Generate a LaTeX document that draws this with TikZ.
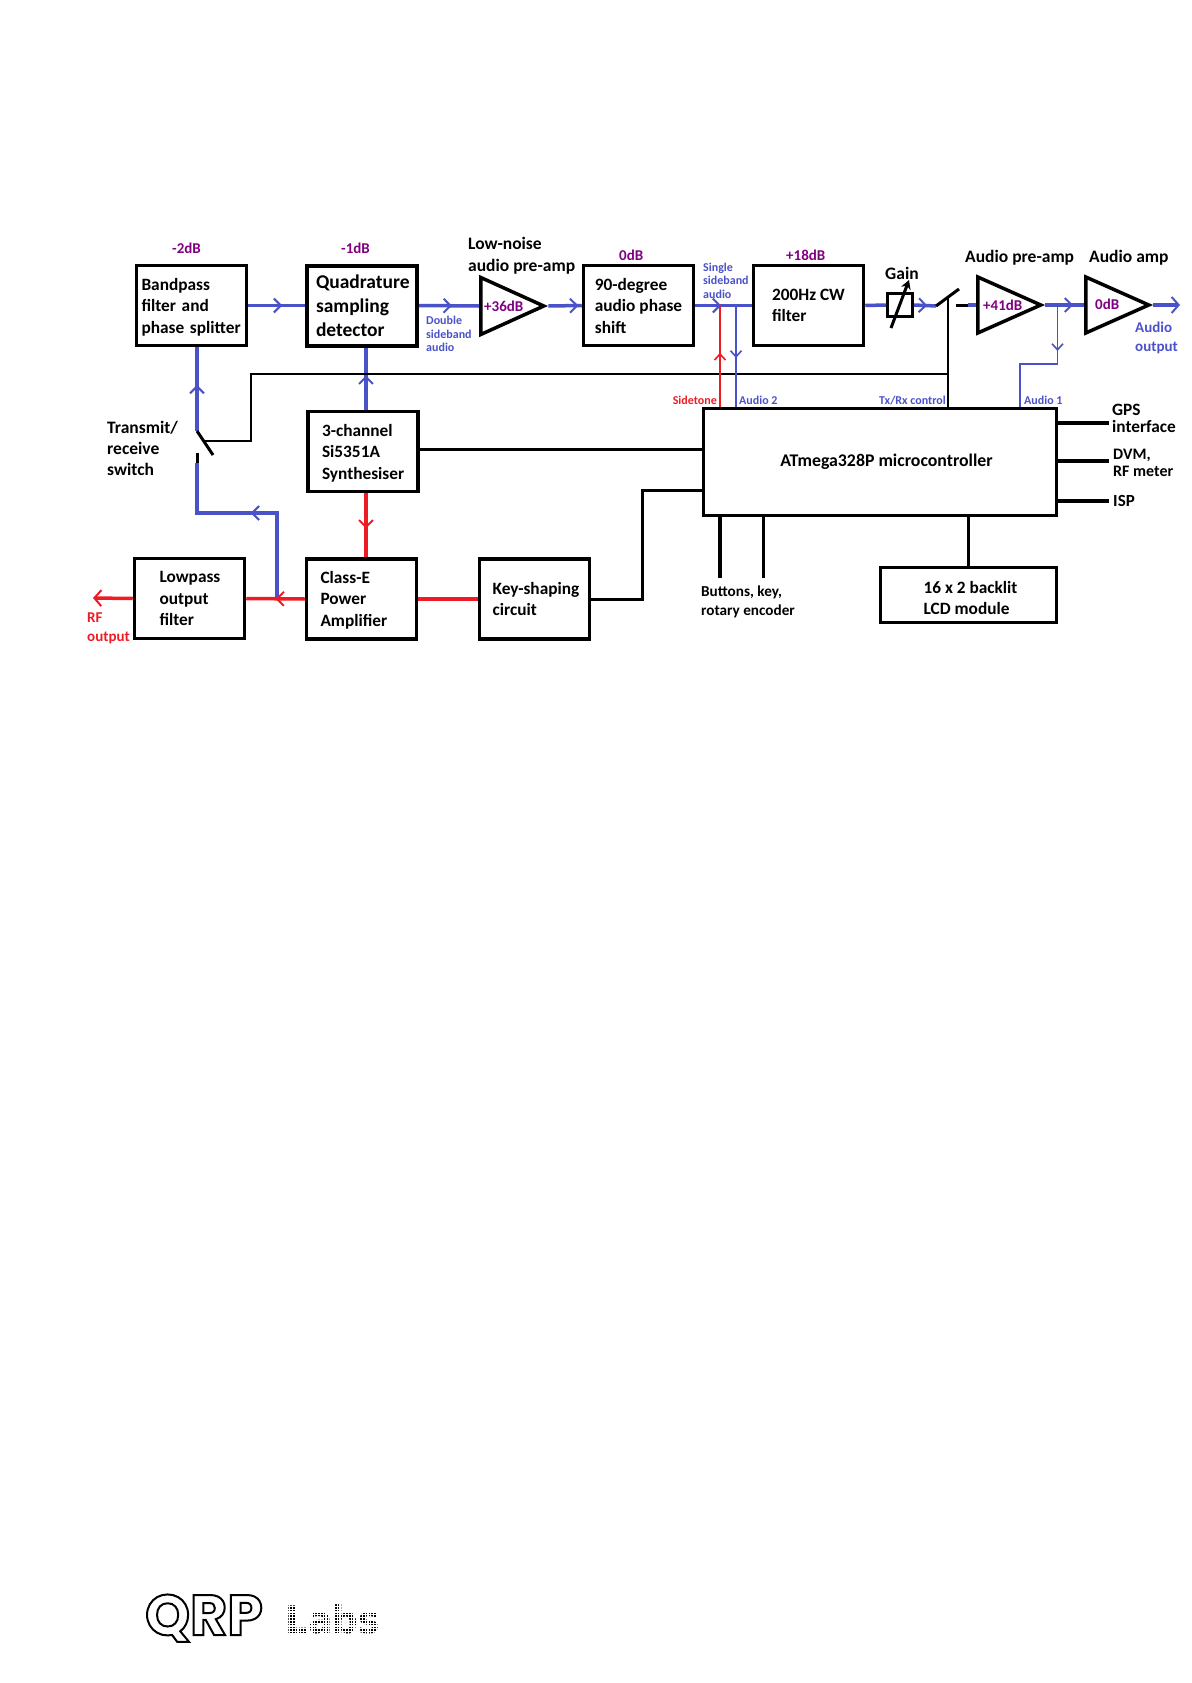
\documentclass[tikz,border=0pt]{standalone}
\usepackage{fontspec}
\setmainfont{Carlito}
\newfontfamily\logofont{Poppins}
\newfontfamily\labsfont{DejaVu Sans}
\usetikzlibrary{arrows.meta,decorations.markings,shapes.geometric}
\definecolor{rxblue}{RGB}{74,82,200}
\definecolor{txred}{RGB}{237,28,36}
\definecolor{gainpurple}{RGB}{128,0,128}
\newcommand{\topgap}[1]{\rule{0pt}{#1}}
\begin{document}
\begin{tikzpicture}
        [x=1pt,y=-1pt,
        box/.style={draw=black,line width=3.5pt,align=left,inner sep=0pt,font=\bfseries\fontsize{17.3}{21.5}\selectfont},
        amp/.style={draw=black,line width=3.5pt,isosceles triangle,isosceles triangle stretches,inner sep=0pt,anchor=lower side},
        txt/.style={anchor=west,align=left,inner sep=0pt,font=\bfseries\fontsize{17.5}{21}\selectfont},
        gain/.style={txt,text=gainpurple,font=\bfseries\fontsize{15}{17}\selectfont},
        small/.style={txt,font=\bfseries\fontsize{12}{13.5}\selectfont},
        rx/.style={draw=rxblue,line width=3.5pt},
        tx/.style={draw=txred,line width=3.5pt},
        ctl/.style={draw=black,line width=3.5pt},
        thin rx/.style={draw=rxblue,line width=1.8pt},
        chev/.style={postaction={decorate,decoration={markings,mark=at position #1 with {\arrow[line width=2pt]{Straight Barb[length=7pt,width=14pt]}}}}},
        thin chev/.style={postaction={decorate,decoration={markings,mark=at position #1 with {\arrow[line width=1.6pt]{Straight Barb[length=6pt,width=11pt]}}}}}]
        \useasboundingbox (0,0) rectangle (1191,1683);
        % blocks
        \node[box,minimum width=110pt,minimum height=80pt,text width=100pt] (bpf) at (191.5,305.5) {\topgap{15pt}Bandpass\\filter and\\phase splitter};
        \node[box,minimum width=110pt,minimum height=80pt,text width=92pt,line width=4pt,font=\bfseries\fontsize{19.5}{24}\selectfont] (qsd) at (362,305.5) {Quadrature\\sampling\\detector};
        \node[box,minimum width=110pt,minimum height=80pt] (phase) at (638.5,305.5) {90-degree\\audio phase\\shift};
        \node[box,minimum width=110pt,minimum height=80pt] (cw) at (808.5,305.5) {200Hz CW\\filter};
        \node[box,minimum width=110pt,minimum height=80pt,text width=82pt] (synth) at (363,451.5) {\topgap{15pt}3-channel\\Si5351A\\Synthesiser};
        \node[box,minimum width=110pt,minimum height=80pt,text width=82pt] (pa) at (361.5,599) {\topgap{14pt}Class-E\\Power\\Amplifier};
        \node[box,minimum width=110pt,minimum height=80pt] (key) at (534.5,599) {\hspace*{3pt}Key-shaping\\\hspace*{3pt}circuit};
        \node[box,minimum width=110pt,minimum height=80pt,text width=60pt] (lpf) at (189.5,598.5) {Lowpass\\output\\filter};
        \node[box,minimum width=353pt,minimum height=107pt,align=center,font=\bfseries\fontsize{17.8}{21}\selectfont] (mcu) at (880,462) {\hspace*{13pt}ATmega328P microcontroller};
        \node[box,minimum width=176pt,minimum height=55pt] (lcd) at (968.5,595) {\topgap{18pt}\hspace*{4pt}16 x 2 backlit\\\hspace*{4pt}LCD module};
        \node[box,line width=3pt,minimum width=25pt,minimum height=23pt] (pot) at (900,305) {};
        \node[amp,minimum height=63pt,minimum width=57pt] (lna) at (479,306) {};
        \node[amp,minimum height=63pt,minimum width=56pt] (preamp) at (976,305) {};
        \node[amp,minimum height=63pt,minimum width=56pt] (audioamp) at (1084,305) {};
        % switch points
        \coordinate (txa) at (197,431);
        \coordinate (txb) at (213,455);
        \coordinate (txc) at (197,453);
        \coordinate (txd) at (197,463);
        \coordinate (txm) at (205,441);
        \coordinate (afa) at (936,306);
        \coordinate (afb) at (959,289);
        \coordinate (afm) at (948,297);
        \coordinate (afc) at (956,305);
        \coordinate (afd) at (968,305);
        \coordinate (tap) at (277,599);
        \coordinate (hop) at (277,513);
        \coordinate (hopb) at (197,513);
        \coordinate (rfend) at (93,598);
        \coordinate (audioend) at (1180,305);
        \coordinate (busa) at (251,441);
        \coordinate (busb) at (251,374);
        \coordinate (busc) at (948,374);
        \coordinate (tapa) at (720,305);
        \coordinate (tapb) at (736,305);
        \coordinate (tapc) at (1057.5,305);
        \coordinate (tapd) at (1057.5,364);
        \coordinate (tape) at (1020,364);
        \coordinate (keya) at (642,599);
        \coordinate (keyb) at (642,490);
        \coordinate (synthtap) at (420,449);
        \coordinate (gpsend) at (1109,423);
        \coordinate (dvmend) at (1109,461);
        \coordinate (ispend) at (1109,501);
        \coordinate (btna) at (720,578);
        \coordinate (btnb) at (763,578);
        \coordinate (potlo) at (891,328);
        \coordinate (pothi) at (909,280);
        % receive chain
        \draw[rx,chev=0.6] (bpf.east) -- (qsd.west);
        \draw[rx,chev=0.55] (qsd.east) -- (lna.lower side);
        \draw[rx,chev=0.9] (lna.apex) -- (phase.west);
        \draw[rx,chev=0.46] (phase.east) -- (cw.west);
        \draw[rx] (cw.east) -- (pot.west);
        \draw[rx,chev=0.6] (pot.east) -- (afa);
        \draw[rx] (afd) -- (preamp.lower side);
        \draw[rx,chev=0.72] (preamp.apex) -- (audioamp.lower side);
        \draw[rx,-{Straight Barb[length=7pt,width=16pt,line width=2pt]}] (audioamp.apex) -- (audioend);
        \draw[rx,chev=0.55] (txa) -- (bpf.south -| txa);
        \draw[rx,chev=0.55] ([xshift=3pt]synth.north) -- ([xshift=3pt]qsd.south -| synth.north);
        \draw[rx,chev=0.52] (tap) -- (hop) -- (hopb) -- (txd);
        % transmit chain
        \draw[tx,chev=0.55] ([xshift=3pt]synth.south) -- ([xshift=3pt]pa.north -| synth.south);
        \draw[tx] (key.west) -- (pa.east);
        \draw[tx,chev=0.5] (pa.west) -- (lpf.east);
        \draw[tx,-{Straight Barb[length=7pt,width=16pt,line width=2pt]}] (lpf.west) -- (rfend);
        % control lines
        \draw[ctl,line width=3pt] (synthtap) -- (mcu.west |- synthtap);
        \draw[ctl,line width=3pt] (key.east) -- (keya) -- (keyb) -- (mcu.west |- keyb);
        \draw[ctl] (mcu.east |- gpsend) -- (gpsend);
        \draw[ctl] (mcu.east |- dvmend) -- (dvmend);
        \draw[ctl] (mcu.east |- ispend) -- (ispend);
        \draw[ctl] (mcu.south -| btna) -- (btna);
        \draw[ctl,line width=3pt] (mcu.south -| btnb) -- (btnb);
        \draw[ctl,line width=3pt] (mcu.south -| lcd.north) -- (lcd.north);
        \draw[ctl,line width=2pt] (txm) -- (busa) -- (busb) -- (busc);
        \draw[ctl,line width=2pt] (afm) -- (mcu.north -| afm);
        % switches
        \draw[ctl,line width=3pt] (txa) -- (txb);
        \draw[ctl,line width=3pt] (txc) -- (txd);
        \draw[ctl,line width=3pt] (afa) -- (afb);
        \draw[ctl,line width=3pt] (afc) -- (afd);
        \draw[ctl,line width=3pt,-{Stealth[length=9pt,width=10pt]}] (potlo) -- (pothi);
        % sidetone and audio feeds
        \draw[draw=txred,line width=1.8pt,thin chev=0.53] (mcu.north -| tapa) -- (tapa);
        \draw[thin rx,thin chev=0.52] (tapb) -- (mcu.north -| tapb);
        \draw[thin rx,thin chev=0.33] (tapc) -- (tapd) -- (tape) -- (mcu.north -| tape);
        % labels
        \node[gain] (g1) at (172,248) {-2dB};
        \node[gain] (g2) at (341,248) {-1dB};
        \node[gain] (g3) at (619,255) {0dB};
        \node[gain] (g4) at (786,255) {+18dB};
        \node[gain] (g5) at (484,306) {+36dB};
        \node[gain] (g6) at (983,305) {+41dB};
        \node[gain] (g7) at (1095,304) {0dB};
        \node[txt,font=\bfseries\fontsize{17.5}{21.5}\selectfont] (lnatxt) at (468,255.5) {Low-noise\\audio pre-amp};
        \node[txt] (pretxt) at (965,258) {Audio pre-amp};
        \node[txt] (amptxt) at (1089,258) {Audio amp};
        \node[txt] (gaintxt) at (885,273) {Gain};
        \node[txt] (trtxt) at (107,448.5) {Transmit/\\receive\\switch};
        \node[txt,font=\bfseries\fontsize{17.3}{17}\selectfont] (gpstxt) at (1112,418) {GPS\\interface};
        \node[txt,font=\bfseries\fontsize{16}{16.5}\selectfont] (dvmtxt) at (1113,463) {DVM,\\RF meter};
        \node[txt,font=\bfseries\fontsize{17}{17}\selectfont] (isptxt) at (1113,501) {ISP};
        \node[txt,font=\bfseries\fontsize{15.2}{19.5}\selectfont] (btntxt) at (701,602) {Buttons, key,\\rotary encoder};
        \node[small,text=rxblue] (dsb) at (426,334) {Double\\sideband\\audio};
        \node[small,text=rxblue] (ssb) at (703,280.5) {Single\\sideband\\audio};
        \node[small,text=txred,anchor=east] (sidetone) at (717,400.5) {Sidetone};
        \node[small,text=rxblue] (aud2) at (739,400.5) {Audio 2};
        \node[small,text=rxblue,anchor=east] (txrx) at (946,400.5) {Tx/Rx control};
        \node[small,text=rxblue] (aud1) at (1024,400.5) {Audio 1};
        \node[txt,text=rxblue,font=\bfseries\fontsize{15}{19.5}\selectfont] (audout) at (1135,338) {Audio\\output};
        \node[small,text=txred,font=\bfseries\fontsize{15}{19}\selectfont] (rfout) at (87,628) {RF\\output};
        % logo
        \node[anchor=base west,inner sep=0pt,font=\logofont\bfseries\fontsize{57}{57}\selectfont] (logoqrp) at (145,1635) {\special{pdf:code 1 Tr 2 w}QRP\special{pdf:code 0 Tr 1 w}};
        \node[anchor=base west,inner sep=0pt,xscale=0.95,font=\labsfont\bfseries\fontsize{38}{38}\selectfont] (logolabs) at (285,1633) {Labs};
        \foreach \i in {0,...,36}
          \draw[white,line width=1.2pt] (284+2.8*\i,1598) -- (284+2.8*\i,1640);
        \foreach \i in {0,...,15}
          \draw[white,line width=1.2pt] (282,1598+2.8*\i) -- (392,1598+2.8*\i);
\end{tikzpicture}
\end{document}
